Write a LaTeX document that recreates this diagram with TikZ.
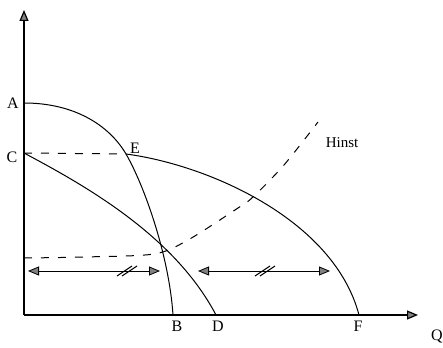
\documentclass[tikz,border=0pt]{standalone}
\usepackage{fontspec}
\setmainfont{Liberation Serif}
\usetikzlibrary{arrows.meta}
\tikzset{
  >={Triangle[length=11pt,width=9pt,fill=gray]},
  axis/.style={line width=1.2pt,->},
  curve/.style={line width=1pt},
  guide/.style={line width=1pt,dash pattern=on 8pt off 9pt},
  span/.style={line width=0.8pt,<->},
  lab/.style={font=\fontsize{16}{18}\selectfont,inner sep=0pt},
  % double slash on the spans
  pics/cut/.style={code={
    \draw[line width=1pt] (-10,-5) -- (5,5) (-5,-5) -- (10,5);
  }},
}

\begin{document}
\begin{tikzpicture}[x=1pt,y=1pt]
  \useasboundingbox (-24,-32) rectangle (419,315);
  \coordinate (O) at (0,0);
  \coordinate (ytop) at (0,305);
  \coordinate (xend) at (394,0);
  \coordinate (A) at (0,212);
  \coordinate (C) at (0,162);
  \coordinate (E) at (102,161);
  \coordinate (B) at (149,0);
  \coordinate (D) at (192,0);
  \coordinate (F) at (335,0);
  \coordinate (h0) at (0,57);
  \coordinate (h1) at (294,193);
  % axes
  \draw[axis] (O) -- (ytop);
  \draw[axis] (O) -- (xend);
  % curves
  \draw[curve] (A) .. controls (50,212) and (85,190) .. (E)
    .. controls (120,130) and (145,60) .. (B);
  \draw[curve] (C) .. controls (60,130) and (150,80) .. (D);
  \draw[curve] (E) .. controls (185,150) and (310,95) .. (F);
  \draw[guide] (C) -- (E);
  \draw[guide] plot[smooth] coordinates {(h0) (60,58) (130,61) (164,75) (214,107) (229,118) (260,150) (h1)};
  % spans
  \coordinate (l1) at (4,44);
  \coordinate (l2) at (136,44);
  \coordinate (r1) at (174,44);
  \coordinate (r2) at (306,44);
  \draw[span] (l1) -- (l2);
  \draw[span] (r1) -- (r2);
  \pic at (103,44) {cut};
  \pic at (241,44) {cut};
  % labels
  \node[lab] (lA) at (-11,212) {A};
  \node[lab] (lC) at (-12,158) {C};
  \node[lab] (lE) at (111,167) {E};
  \node[lab] (lB) at (153,-11) {B};
  \node[lab] (lD) at (194,-11) {D};
  \node[lab] (lF) at (334,-11) {F};
  \node[lab,font=\fontsize{15}{17}\selectfont] (lH) at (318,172) {Hinst};
  \node[lab] (lQ) at (413,-22) {Q};
\end{tikzpicture}
\end{document}
